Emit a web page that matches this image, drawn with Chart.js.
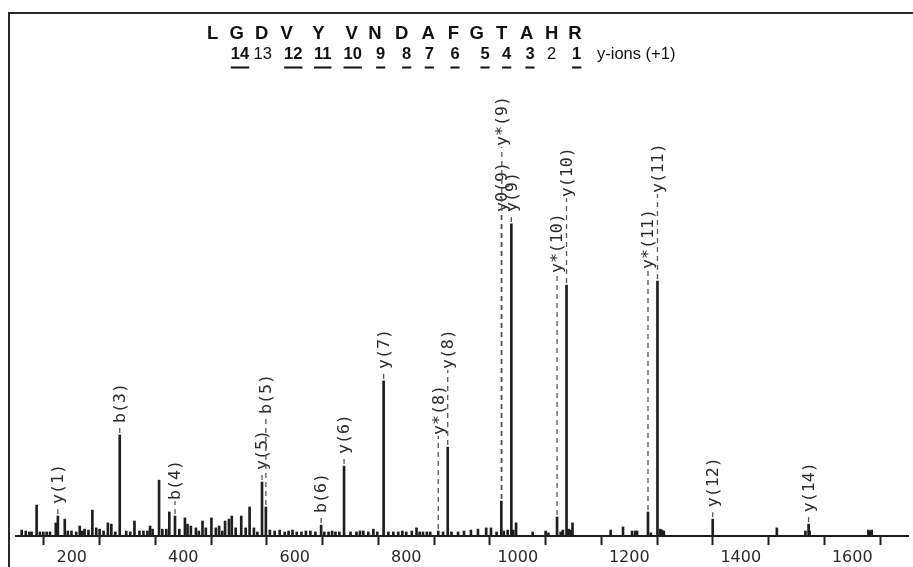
<!DOCTYPE html>
<html>
<head>
<meta charset="utf-8">
<script src="https://cdn.jsdelivr.net/npm/chart.js@4/dist/chart.umd.min.js"></script>
<style>
  html, body { margin: 0; padding: 0; background: #fff; }
  #wrap { width: 913px; height: 567px; position: relative; }
</style>
</head>
<body>
<div id="wrap"><canvas id="c" width="913" height="567"></canvas></div>
<script>
// ---- data ----
const peakMz = [110.2,117.5,124,128,137,143,149,155,161,171.4,175.1,187.5,193,199.5,208,214.3,219,223,230,237,244,250,257,264.8,271,278,286.1,297.7,305,312.5,321.4,328.6,335.7,340.5,345,356.6,362.5,369.6,375,385.2,392.9,403,407.7,413.7,422.7,428,434.5,440.5,450.5,458.4,464.3,470,475,482,487,494,504,512,519,526.8,533,541.3,548.2,555.4,564,573,582,589,596,603.6,612,620,628,637,647.3,653,660.7,667,673,680,688.4,700,710.7,717,723,732,741,748,759.4,768,776.8,785.7,793,800,810,818.4,824,830,837,843,857.4,866,874.4,881,893,903.6,916,928.6,943.4,952,962,970.5,975,982,988.5,992,997,1026.8,1050,1055,1070.5,1077,1080.9,1087.5,1091,1094.6,1098.2,1166.6,1188.8,1205,1210.7,1214,1233.6,1238.8,1250.6,1255.4,1259,1262,1349.7,1464.7,1516,1521.7,1523.5,1629,1632,1634.8];
const peakIntensity = [1.9,1.6,1.3,1.3,9.9,1.3,1.3,1.3,1.3,4.2,6.4,5.4,1.6,1.6,1.3,3.2,1.6,2.2,1.9,8.3,2.6,2.2,1.6,4.2,3.8,1.3,32.4,1.6,1.3,4.8,1.6,1.6,1.6,3.2,2.2,17.9,2.2,2.2,7.7,6.4,2.2,5.8,3.8,3.2,2.6,1.6,4.8,2.6,5.8,2.6,3.2,1.6,4.8,5.4,6.4,2.6,6.4,2.6,9.3,2.6,1.3,17.3,9.3,1.9,1.6,1.9,1.3,1.6,1.9,1.3,1.3,1.6,1.6,1.3,3.5,1.3,1.3,1.6,1.3,1.3,22.4,1.3,1.3,1.6,1.6,1.3,2.2,1.3,49.7,1.3,1.3,1.3,1.6,1.3,1.6,2.6,1.3,1.3,1.3,1.3,1.6,1.3,28.5,1.3,1.3,1.6,1.9,2.2,2.6,2.6,1.3,11.2,1.6,1.9,100,1.9,4.2,1.3,1.6,1.0,6.1,1.3,1.9,80.4,2.2,1.9,4.2,1.9,2.9,1.6,1.6,1.6,7.7,1.0,81.7,2.2,1.9,1.6,5.4,2.6,1.6,3.8,1.6,1.9,1.6,1.9];

const ionNames = ['y(1)','b(3)','b(4)','y(5)','b(5)','b(6)','y(6)','y(7)','y*(8)','y(8)','y0(9)','y*(9)','y(9)','y*(10)','y(10)','y*(11)','y(11)','y(12)','y(14)'];
const ionMz = [175.1,286.1,385.2,541.3,548.2,647.3,688.4,759.4,857.4,874.4,970.5,971.4,988.5,1070.5,1087.5,1233.6,1250.6,1349.7,1521.7];

const sequence = ['L','G','D','V','Y','V','N','D','A','F','G','T','A','H','R'];
const yIonNumbers = ['14','13','12','11','10','9','8','7','6','5','4','3','2','1'];
const yIonObserved = [true,false,true,true,true,true,true,true,true,true,true,true,false,true];
const xTickValues = [200,400,600,800,1000,1200,1400,1600];

// ---- layout (text placement only) ----
const seqX = [212.7,236.7,261.7,286.7,318.3,351.7,375,401.7,428.3,453.3,476.7,501.7,526.7,551.7,575];
const numX = [240,262.7,293.3,322.7,352.7,380.7,406.7,429.3,455,485,506.7,530,551.7,576.7];

const peaks = peakMz.map((m, i) => ({ x: m, y: peakIntensity[i] }));

const annotate = {
  id: 'annotate',
  afterDatasetsDraw(chart) {
    const ctx = chart.ctx, xs = chart.scales.x, ys = chart.scales.y;
    ctx.save();
    ctx.font = '16.6px "DejaVu Sans Mono", "Liberation Mono", monospace';
    const placed = [];
    ionMz.forEach((mz, i) => {
      const px = xs.getPixelForValue(mz);
      let own = 0, nb = 0;
      peakMz.forEach((m, k) => {
        if (Math.abs(m - mz) <= 1.2) own = Math.max(own, peakIntensity[k]);
        if (Math.abs(xs.getPixelForValue(m) - px) <= 11) nb = Math.max(nb, peakIntensity[k]);
      });
      const ownTop = ys.getPixelForValue(own);
      let base = ys.getPixelForValue(nb) - 12;
      const len = ctx.measureText(ionNames[i]).width;
      let moved = true;
      while (moved) {
        moved = false;
        for (const p of placed) {
          if (Math.abs(p.px - px) < 10 && base > p.top - 4 && base - len < p.base) {
            base = p.top - 16; moved = true;
          }
        }
      }
      placed.push({ px, base, top: base - len });
      // dashed connector
      ctx.strokeStyle = '#555';
      ctx.lineWidth = 1.3;
      ctx.setLineDash([5, 4]);
      ctx.beginPath();
      ctx.moveTo(px, ownTop - 2);
      ctx.lineTo(px, base + 1);
      ctx.stroke();
      ctx.setLineDash([]);
      // label
      ctx.save();
      ctx.translate(px, base);
      ctx.rotate(-Math.PI / 2);
      ctx.fillStyle = '#2a2a2a';
      ctx.textAlign = 'left';
      ctx.textBaseline = 'middle';
      ctx.fillText(ionNames[i], 0, 1);
      ctx.restore();
    });
    ctx.restore();
  },
  afterDraw(chart) {
    const ctx = chart.ctx;
    ctx.save();
    // frame lines
    ctx.strokeStyle = '#2a2a2a';
    ctx.lineWidth = 2;
    ctx.beginPath();
    ctx.moveTo(9, 13); ctx.lineTo(913, 13);
    ctx.moveTo(9, 12); ctx.lineTo(9, 567);
    ctx.stroke();
    // sequence header
    ctx.fillStyle = '#111';
    ctx.textAlign = 'center';
    ctx.textBaseline = 'alphabetic';
    ctx.font = 'bold 18.5px "Liberation Sans", Arial, sans-serif';
    sequence.forEach((s, i) => ctx.fillText(s, seqX[i], 38.5));
    yIonNumbers.forEach((n, i) => {
      ctx.font = (yIonObserved[i] ? 'bold ' : '') + '16.5px "Liberation Sans", Arial, sans-serif';
      ctx.fillText(n, numX[i], 58.5);
      if (yIonObserved[i]) {
        const w = ctx.measureText(n).width;
        ctx.fillRect(numX[i] - w / 2, 66.5, w, 2);
      }
    });
    ctx.font = '16.5px "Liberation Sans", Arial, sans-serif';
    ctx.textAlign = 'left';
    ctx.fillText('y-ions (+1)', 597, 58.5);
    ctx.restore();
  }
};

new Chart(document.getElementById('c'), {
  type: 'bar',
  data: {
    datasets: [{
      data: peaks,
      backgroundColor: '#1e1e1e',
      borderWidth: 0,
      barThickness: 2,
      grouped: false
    }]
  },
  options: {
    responsive: false,
    animation: false,
    layout: { padding: { left: 16, right: 3, top: 13, bottom: -4 } },
    plugins: { legend: { display: false }, tooltip: { enabled: false }, title: { display: false } },
    scales: {
      x: {
        type: 'linear',
        min: 100,
        max: 1700,
        offset: false,
        border: { display: true, color: '#1e1e1e', width: 2 },
        grid: { display: true, drawOnChartArea: false, drawTicks: true, tickLength: 9, tickColor: '#1e1e1e', tickWidth: 2 },
        ticks: {
          stepSize: 100,
          autoSkip: false,
          maxRotation: 0,
          padding: 5,
          color: '#2a2a2a',
          font: { family: '"DejaVu Sans", Verdana, sans-serif', size: 16, lineHeight: 1 },
          callback: (v) => xTickValues.includes(v) ? String(v) : ''
        }
      },
      y: {
        display: false,
        min: 0,
        max: 167.6
      }
    }
  },
  plugins: [annotate]
});
</script>
</body>
</html>
